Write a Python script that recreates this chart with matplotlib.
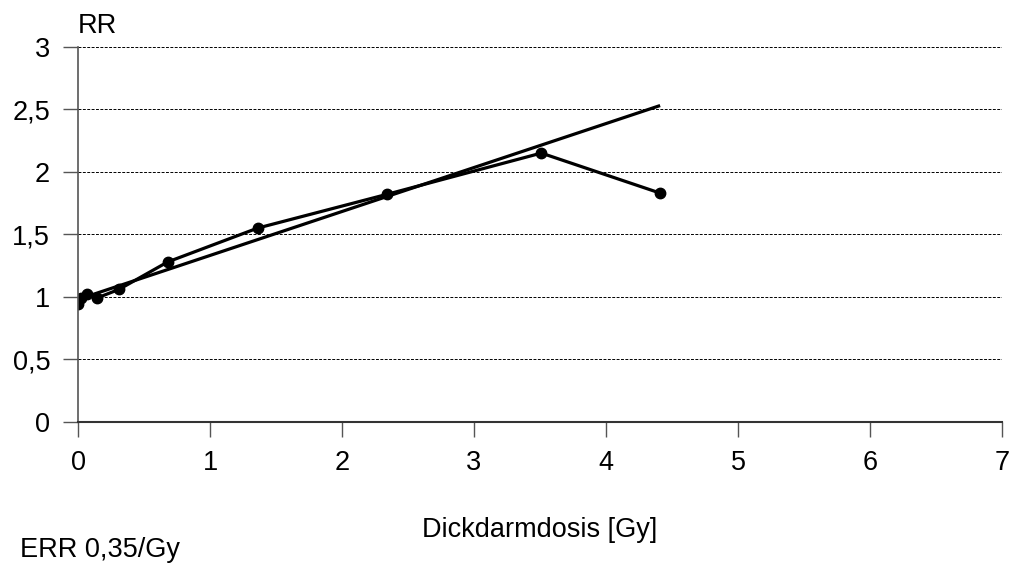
import numpy as np
from matplotlib import pyplot as plt

# measured relative risk vs colon dose
dose = [0.0, 0.02, 0.07, 0.14, 0.31, 0.68, 1.36, 2.34, 3.51, 4.41]
rr = [0.94, 0.99, 1.02, 0.99, 1.06, 1.28, 1.55, 1.82, 2.15, 1.83]
# linear fit, ERR 0.35/Gy
fit_dose = [0.0, 4.41]
fit_rr = [0.98, 2.53]

yticks = [0, 0.5, 1, 1.5, 2, 2.5, 3]
ytick_labels = ['0', '0,5', '1', '1,5', '2', '2,5', '3']
xticks = [0, 1, 2, 3, 4, 5, 6, 7]

plt.rcParams['font.family'] = ['Liberation Sans', 'DejaVu Sans']

fig = plt.figure(figsize=(10.12, 5.66), dpi=100)
ax = fig.add_axes([0.0771, 0.2544, 0.913, 0.663])

ax.plot(fit_dose, fit_rr, color='black', lw=2.3, solid_capstyle='butt')
ax.plot(dose, rr, color='black', lw=2.3, marker='o', markersize=7.5)

ax.set_xlim(0, 7)
ax.set_ylim(0, 3)
ax.set_yticks(yticks)
ax.set_yticklabels(ytick_labels)
ax.set_xticks(xticks)

for y in yticks[1:]:
    ax.axhline(y, color='black', lw=0.7, ls=(0, (3, 1.5)), zorder=0)

for s in ['top', 'right']:
    ax.spines[s].set_visible(False)
ax.spines['left'].set_color('#555555')
ax.spines['bottom'].set_color('#333333')
ax.spines['left'].set_linewidth(1.2)
ax.spines['bottom'].set_linewidth(1.5)

ax.tick_params(axis='x', length=11, width=1, color='#555555', pad=9, labelsize=19.5)
ax.tick_params(axis='y', length=11, width=1, color='#555555', pad=9, labelsize=19.5)

ax.set_xlabel('Dickdarmdosis [Gy]', fontsize=19.5, va='baseline')
ax.xaxis.set_label_coords(0.5, -0.307)
fig.text(0.0771, 0.9417, 'RR', fontsize=19.5, ha='left', va='baseline')
fig.text(0.0198, 0.0159, 'ERR 0,35/Gy', fontsize=19.5, ha='left', va='baseline')

fig.savefig('out.png', dpi=100)
